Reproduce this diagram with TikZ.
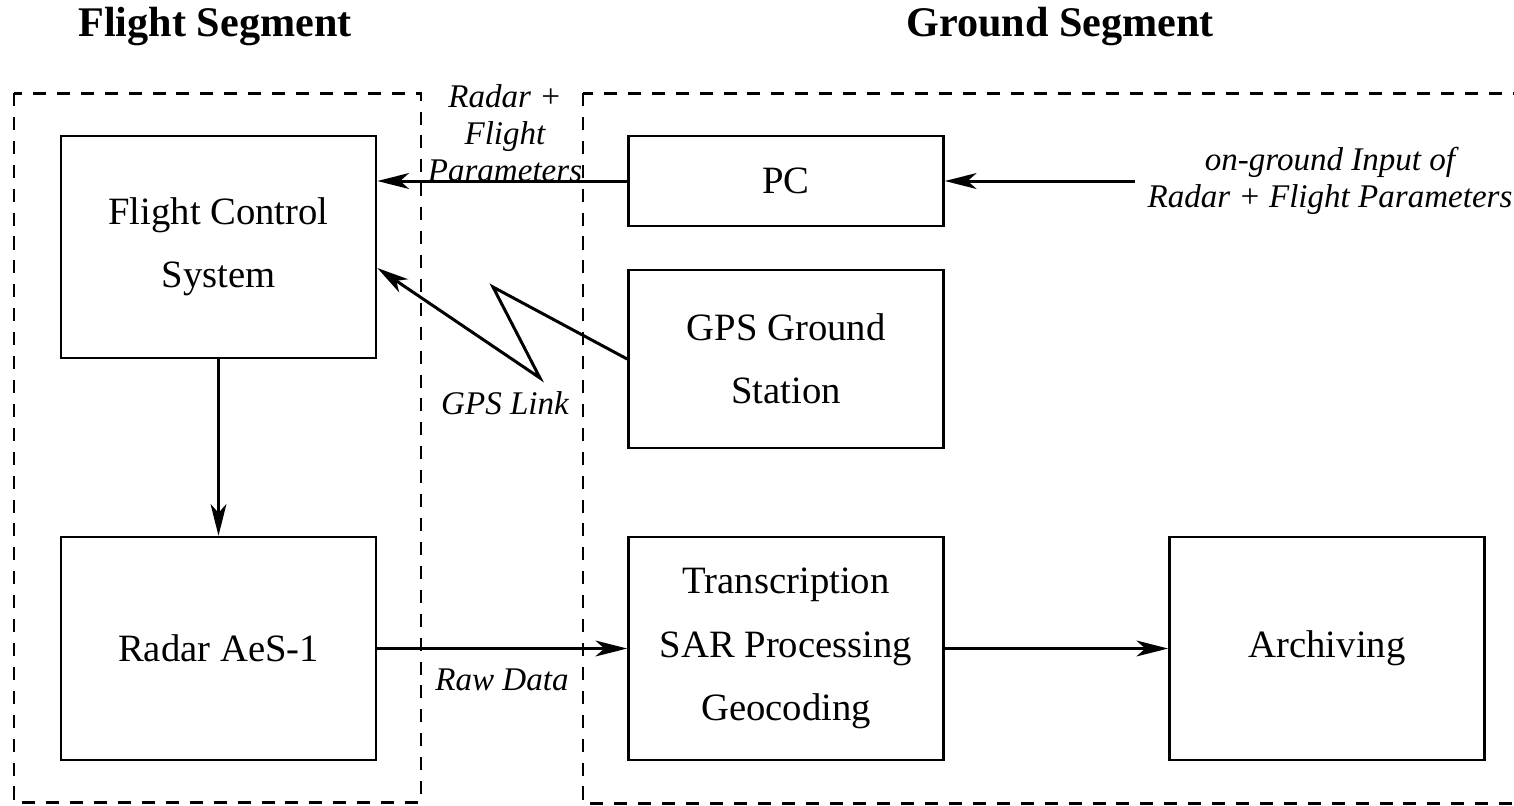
\documentclass[tikz,border=0pt]{standalone}
\usepackage{fontspec}
\setmainfont{Liberation Serif}
\usepackage{tikz}
\usetikzlibrary{positioning,calc,arrows.meta}
\tikzset{block/.style={draw,line width=0.7pt,minimum width=3.15cm,align=center,inner sep=0pt,
                       font=\fontsize{11}{18}\selectfont},
         segment/.style={draw,line width=0.85pt,dash pattern=on 3.7pt off 3.1pt},
         lbl/.style={align=center,inner sep=0pt,font=\fontsize{9.4}{10.5}\itshape},
         title/.style={font=\fontsize{12}{14}\bfseries}
}
\tikzstyle{arrow} = [line width=0.85pt,-{Stealth[length=9pt,width=4.5pt,inset=2.5pt]}]

\begin{document}
\begin{tikzpicture}[x=0.01cm,y=-0.01cm]
\useasboundingbox (0,0) rectangle (1514,805);

\node[title] (flighttitle) at (215,27) {Flight Segment};
\node[title] (groundtitle) at (1060,27) {Ground Segment};

\draw[segment] (14,93) rectangle (421,802);
\draw[segment] (583,93) rectangle (1540,803);

\node[block,minimum height=2.22cm] (fcs) at (218.5,247) {Flight Control\\System};
\node[block,minimum height=2.23cm] (radar) at (218.5,648.5) {Radar AeS-1};
\node[block,minimum height=0.9cm] (pc) at (786,181) {PC};
\node[block,minimum height=1.78cm] (gps) at (786,359) {GPS Ground\\Station};
\node[block,minimum height=2.23cm] (trans) at (786,648.5) {Transcription\\SAR Processing\\Geocoding};
\node[block,minimum height=2.23cm] (arch) at (1327,648.5) {Archiving};

\node[lbl] (params) at (505,133) {Radar +\\Flight\\Parameters};
\node[lbl] (gpslink) at (505,403) {GPS Link};
\node[lbl] (rawdata) at (502,680) {Raw Data};
\node[lbl] (input) at (1330,181) {on-ground Input of\\Radar + Flight Parameters};

\coordinate (inputend) at (1135,181);
\coordinate (zig1) at (493,287);
\coordinate (zig2) at (540,378);

\draw[arrow] (inputend)--(pc.east);
\draw[arrow] (pc.west)--(pc.west -| fcs.east);
\draw[arrow] (gps.west)--(zig1)--(zig2)--([yshift=-0.21cm]fcs.east);
\draw[arrow] (fcs.south)--(radar.north);
\draw[arrow] (radar.east)--(trans.west);
\draw[arrow] (trans.east)--(arch.west);

\end{tikzpicture}
\end{document}
